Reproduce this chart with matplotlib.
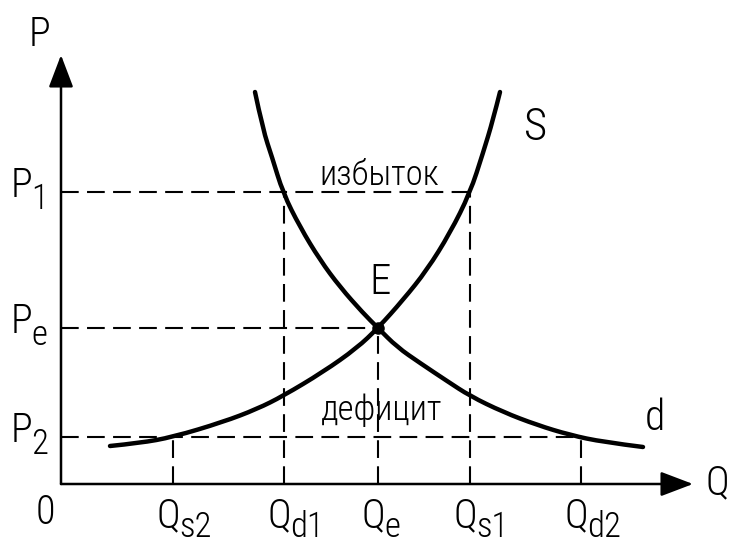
import matplotlib
matplotlib.use("Agg")
import matplotlib.pyplot as plt
from matplotlib.path import Path
from matplotlib.patches import PathPatch

plt.rcParams['font.family'] = ['Roboto Condensed', 'Liberation Sans Narrow', 'DejaVu Sans']
plt.rcParams['font.weight'] = 'light'

# price / quantity levels (drawing units, origin at the axes corner)
q_levels = {"s2": 112, "d1": 223, "e": 317, "s1": 409, "d2": 520}
p_levels = {"1": 292, "e": 156, "2": 47}

# supply curve S
supply_q = [49, 79, 112, 162, 196, 222, 262, 296, 317, 342, 366, 389, 409, 422, 432, 439]
supply_p = [38, 41, 47, 62, 75, 88, 112, 136, 156, 184, 214, 251, 291, 331, 364, 392]

# demand curve d
demand_q = [194, 202, 211, 222, 239, 259, 279, 302, 317, 336, 359, 386, 409, 442, 476, 509, 542, 582]
demand_p = [392, 354, 327, 291, 257, 224, 197, 171, 156, 137, 121, 103, 88, 72, 59, 49, 42, 37]

q_max, p_max = 632, 429


def smooth_path(xs, ys):
    # quadratic B-spline through the read points, drawn by matplotlib's Path
    pts = list(zip(xs, ys))
    verts = [pts[0]]
    codes = [Path.MOVETO]
    for i in range(1, len(pts) - 1):
        if i == len(pts) - 2:
            end = pts[-1]
        else:
            end = ((pts[i][0] + pts[i + 1][0]) / 2, (pts[i][1] + pts[i + 1][1]) / 2)
        verts += [pts[i], end]
        codes += [Path.CURVE3, Path.CURVE3]
    return Path(verts, codes)


fig = plt.figure(figsize=(7.29, 5.43), dpi=100)
ax = fig.add_axes([0, 0, 1, 1])
ax.set_xlim(-61, 668)
ax.set_ylim(-59, 484)
ax.axis('off')

# axes with arrows
arrow = dict(arrowstyle='-|>,head_length=1.0,head_width=0.38', color='black',
             lw=1.8, mutation_scale=20, shrinkA=0, shrinkB=0)
ax.annotate('', xy=(q_max, 0), xytext=(0, 0), arrowprops=arrow)
ax.annotate('', xy=(0, p_max), xytext=(0, 0), arrowprops=arrow)

# dashed guide lines
dash = dict(color='black', lw=1.5, linestyle=(0, (8.5, 4)))
ax.plot([0, q_levels["s1"]], [p_levels["1"]] * 2, **dash)
ax.plot([0, q_levels["e"]], [p_levels["e"]] * 2, **dash)
ax.plot([0, q_levels["d2"]], [p_levels["2"]] * 2, **dash)
ax.plot([q_levels["s2"]] * 2, [0, p_levels["2"]], **dash)
ax.plot([q_levels["d1"]] * 2, [0, p_levels["1"]], **dash)
ax.plot([q_levels["e"]] * 2, [0, p_levels["e"]], **dash)
ax.plot([q_levels["s1"]] * 2, [0, p_levels["1"]], **dash)
ax.plot([q_levels["d2"]] * 2, [0, p_levels["2"]], **dash)

# curves
for xs, ys in [(supply_q, supply_p), (demand_q, demand_p)]:
    ax.add_patch(PathPatch(smooth_path(xs, ys), facecolor='none', edgecolor='black',
                           lw=3.2, capstyle='round', joinstyle='round'))
ax.plot([q_levels["e"]], [p_levels["e"]], 'o', color='black', ms=8)

FS = 29
SUB = 25


def label(x, y, main, sub, sub_dx, sub_dy):
    ax.text(x, y, main, fontsize=FS, ha='center', va='baseline')
    ax.text(x + sub_dx, y + sub_dy, sub, fontsize=SUB, ha='left', va='baseline')


# price labels
for key, val in p_levels.items():
    label(-40, val - 5, 'P', key, 10, -12)

# quantity labels
for key, val in q_levels.items():
    label(val - 5, -43, 'Q', key, 11, -10)

ax.text(-21, 449, 'P', fontsize=FS, ha='center', va='center')
ax.text(656, 1, 'Q', fontsize=FS, ha='center', va='center')
ax.text(-16, -29, '0', fontsize=FS, ha='center', va='center')
ax.text(475, 356, 'S', fontsize=32, ha='center', va='center')
ax.text(594, 66, 'd', fontsize=30, ha='center', va='center')
ax.text(319, 201, 'E', fontsize=31, ha='center', va='center')
ax.text(318, 299, 'избыток', fontsize=25, ha='center', va='baseline')
ax.text(321, 64, 'дефицит', fontsize=25, ha='center', va='baseline')

fig.savefig('out.png', dpi=100)
